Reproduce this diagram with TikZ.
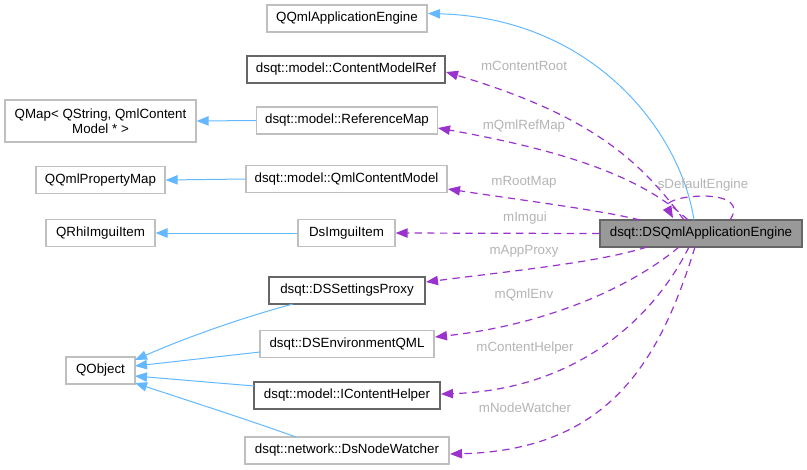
\documentclass[tikz,border=0pt]{standalone}
\usepackage{fontspec}
\setmainfont{Liberation Sans}
\usetikzlibrary{arrows.meta}
\definecolor{inh}{HTML}{63B8FF}
\definecolor{usec}{HTML}{9A32CD}
\definecolor{lbl}{HTML}{B4B4B4}
\definecolor{lightb}{HTML}{BFBFBF}
\definecolor{darkb}{HTML}{666666}
\tikzset{
  box/.style={draw=lightb, line width=0.9pt, fill=white, minimum height={27*0.75pt}, inner sep=2pt, font=\fontsize{10}{11}\selectfont, text=black, align=center},
  dbox/.style={box, draw=darkb},
  mainbox/.style={box, draw=darkb, fill=black!40},
  inharrow/.style={draw=inh, line width=0.75pt, -{Triangle[length=9pt,width=7pt]}},
  usearrow/.style={draw=usec, line width=0.9pt, dash pattern=on 5.5pt off 4pt, -{Triangle[length=9pt,width=7pt]}},
  elabel/.style={text=lbl, font=\fontsize{10}{11}\selectfont, inner sep=0pt}
}
\begin{document}
\begin{tikzpicture}[x=0.75pt, y=-0.75pt]
\useasboundingbox (0,0) rectangle (807,469);
% nodes
\node[mainbox, minimum width={202*0.75pt}] (eng) at (701,233.5) {dsqt::DSQmlApplicationEngine};
\node[box, minimum width={160*0.75pt}] (qqae) at (347,18.5) {QQmlApplicationEngine};
\node[dbox, minimum width={198*0.75pt}] (cmr) at (346,69.5) {dsqt::model::ContentModelRef};
\node[box, minimum width={181*0.75pt}] (refmap) at (347,120.5) {dsqt::model::ReferenceMap};
\node[box, minimum width={201*0.75pt}] (qcm) at (346.5,179) {dsqt::model::QmlContentModel};
\node[box, minimum width={191*0.75pt}, minimum height={42*0.75pt}, inner sep=1pt] (qmap) at (100.5,121) {QMap< QString, QmlContent\\Model * >};
\node[box, minimum width={129*0.75pt}] (qpm) at (100.5,180) {QQmlPropertyMap};
\node[box, minimum width={109*0.75pt}] (qrhi) at (100.5,233) {QRhiImguiItem};
\node[box, minimum width={97*0.75pt}] (dsimgui) at (346.5,233) {DsImguiItem};
\node[dbox, minimum width={156*0.75pt}] (proxy) at (347,290.5) {dsqt::DSSettingsProxy};
\node[box, minimum width={174*0.75pt}] (envqml) at (347,344) {dsqt::DSEnvironmentQML};
\node[dbox, minimum width={186*0.75pt}] (ich) at (347,395.5) {dsqt::model::IContentHelper};
\node[box, minimum width={204*0.75pt}] (nw) at (347,450.5) {dsqt::network::DsNodeWatcher};
\node[box, minimum width={69*0.75pt}] (qobj) at (100.5,370.5) {QObject};
% coordinates on main node
\coordinate (eTop1) at (694,220);
\coordinate (qqaeE) at (428,13.5);
% inheritance edges
\draw[inharrow] (eTop1) .. controls (680,130) and (592,18) .. (qqaeE);
\draw[inharrow] (refmap.west) -- (qmap.east);
\draw[inharrow] (qcm.west) -- (qpm.east);
\draw[inharrow] (dsimgui.west) -- (qrhi.east);
\coordinate (pxb) at (293,304);
\coordinate (qo1) at (135,360);
\coordinate (envw) at (260,352);
\coordinate (qo2) at (135,366);
\coordinate (ichw) at (254,386);
\coordinate (qo3) at (135,376);
\coordinate (nwt) at (296,437);
\coordinate (qo4) at (135,383);
\draw[inharrow] (pxb) .. controls (240,318) and (180,340) .. (qo1);
\draw[inharrow] (envw) -- (qo2);
\draw[inharrow] (ichw) -- (qo3);
\draw[inharrow] (nwt) .. controls (240,417) and (180,398) .. (qo4);
% usage edges
\coordinate (cmrE) at (446,72);
\coordinate (refE) at (438,128);
\coordinate (qcmE) at (448,189);
\coordinate (proxyE) at (426,282);
\coordinate (envE) at (435,337);
\coordinate (ichE) at (441,394);
\coordinate (nwE) at (450,454);
\draw[usearrow] (684,220) .. controls (640,160) and (590,115) .. (cmrE);
\draw[usearrow] (688,220) .. controls (640,175) and (560,150) .. (refE);
\draw[usearrow] (640,220) .. controls (600,210) and (520,200) .. (qcmE);
\draw[usearrow] (eng.west) -- (dsimgui.east);
\draw[usearrow] (647,247) .. controls (600,262) and (520,270) .. (proxyE);
\draw[usearrow] (679,247) .. controls (630,288) and (545,325) .. (envE);
\draw[usearrow] (689,247) .. controls (650,325) and (570,390) .. (ichE);
\draw[usearrow] (695,247) .. controls (660,360) and (610,450) .. (nwE);
\draw[usearrow] (730,220) .. controls (740,205) and (730,197) .. (705,196) .. controls (680,196) and (664,202) .. (673,218);
% labels
\node[elabel] (lcr) at (524,66) {mContentRoot};
\node[elabel] (lqr) at (524,126.5) {mQmlRefMap};
\node[elabel] (lrm) at (524,182) {mRootMap};
\node[elabel] (lim) at (525,218) {mImgui};
\node[elabel] (lap) at (524,251) {mAppProxy};
\node[elabel] (lqe) at (524,295) {mQmlEnv};
\node[elabel] (lch) at (525,348) {mContentHelper};
\node[elabel] (lnw) at (525,408) {mNodeWatcher};
\node[elabel] (lde) at (703,185) {sDefaultEngine};
\end{tikzpicture}
\end{document}
